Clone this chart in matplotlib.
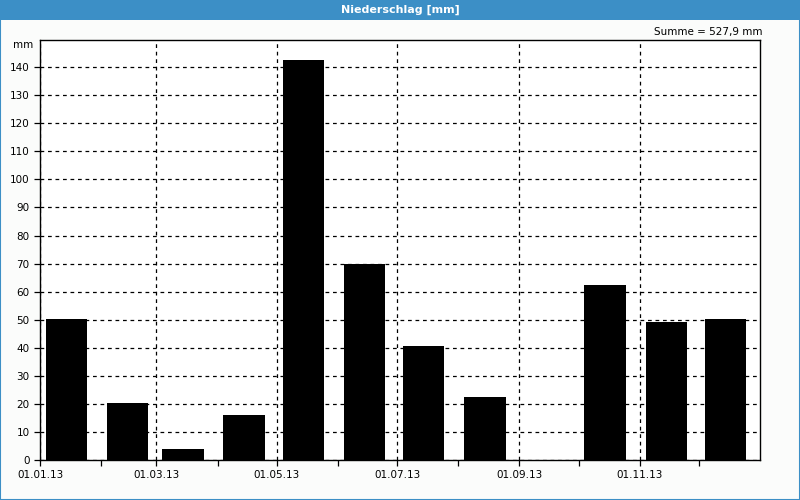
import datetime as dt
import matplotlib
matplotlib.use("Agg")
import matplotlib.pyplot as plt
import matplotlib.dates as mdates
from matplotlib.patches import Rectangle

# monthly precipitation 2013 (mm)
months = [dt.date(2013, m, 1) for m in range(1, 13)]
rain = [50.3, 20.4, 3.9, 16.1, 142.4, 69.8, 40.6, 22.4, 0.0, 62.4, 49.2, 50.4]
title = "Niederschlag [mm]"
total_label = "Summe = 527,9 mm"

blue = "#3c8fc6"
plt.rcParams["font.family"] = "DejaVu Sans"
plt.rcParams["font.size"] = 7.5

fig = plt.figure(figsize=(8, 5), dpi=100, facecolor="#fbfcfb")

# title bar + frame
fig.patches.append(Rectangle((0, 1 - 20 / 500), 1, 20 / 500, transform=fig.transFigure,
                             facecolor=blue, edgecolor="none"))
fig.patches.append(Rectangle((0, 0), 1, 1, transform=fig.transFigure,
                             facecolor="none", edgecolor=blue, linewidth=1.5))
fig.text(0.5, 1 - 10 / 500, title, color="white", fontweight="bold",
         ha="center", va="center", fontsize=8)

ax = fig.add_axes([40 / 800, 40 / 500, 720 / 800, 420 / 500])
ax.set_facecolor("white")

lefts = [m + dt.timedelta(days=3) for m in months]
ax.bar(lefts, rain, width=21, align="edge", color="black")

ax.set_xlim(dt.date(2013, 1, 1), dt.date(2014, 1, 1))
ax.set_ylim(0, 149.7)
ax.set_yticks(range(0, 150, 10))
ax.set_xticks(months[::2])
ax.set_xticks(mdates.date2num(months[1::2]), minor=True)
ax.xaxis.set_major_formatter(mdates.DateFormatter("%d.%m.%y"))

ax.grid(True, which="major", color="black", linestyle=(0, (3, 3)), linewidth=0.9)
ax.set_axisbelow(True)
ax.tick_params(which="both", direction="out", length=4, width=0.9, colors="black")
ax.tick_params(axis="x", pad=3)
for s in ax.spines.values():
    s.set_linewidth(1.0)

ax.text(-0.01, 1.0, "mm", transform=ax.transAxes, ha="right", va="top")
fig.text(762 / 800, 1 - 32 / 500, total_label, ha="right", va="center")

fig.savefig("out.png", dpi=100, facecolor=fig.get_facecolor())
